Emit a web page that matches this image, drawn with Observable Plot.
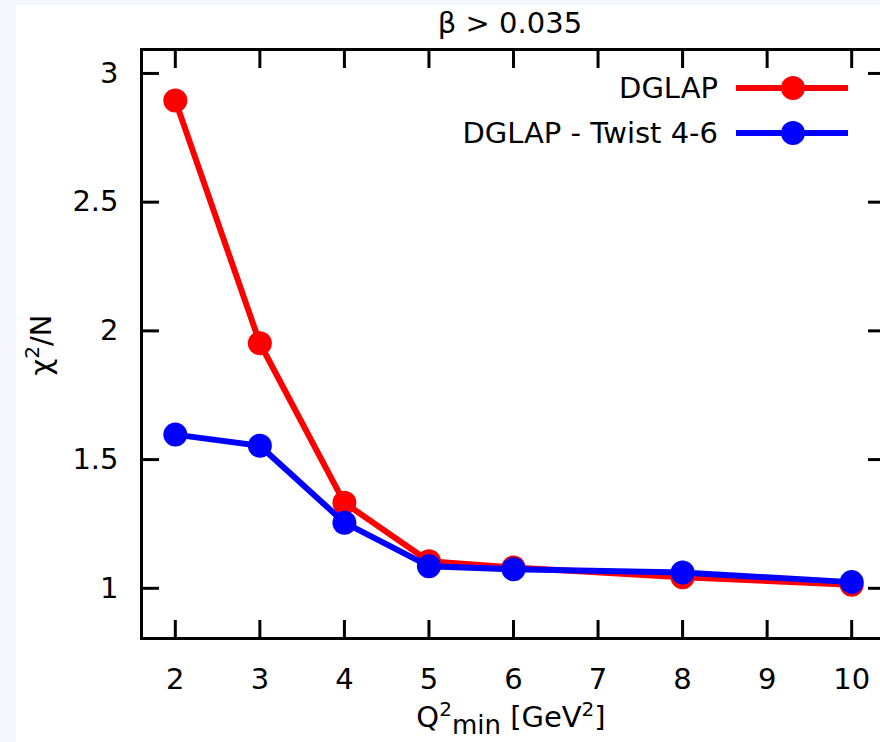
<!DOCTYPE html>
<html>
<head>
<meta charset="utf-8">
<script src="https://cdn.jsdelivr.net/npm/d3@7"></script>
<script src="https://cdn.jsdelivr.net/npm/@observablehq/plot@0.6"></script>
<style>
  html, body { margin: 0; padding: 0; }
  body { width: 880px; height: 742px; overflow: hidden; background: #f4f6fb; }
  #chart { position: absolute; left: 16px; top: 5px; width: 864px; height: 737px; overflow: hidden; background: #fff; }
  #chart svg { display: block; max-width: none !important; }
</style>
</head>
<body>
<div id="chart"></div>
<script>
// ---- data ----
const qmin = [2, 3, 4, 5, 6, 8, 10];
const dglap = [2.895, 1.952, 1.332, 1.105, 1.081, 1.043, 1.014];
const dglapTwist = [1.597, 1.554, 1.255, 1.086, 1.074, 1.061, 1.024];
const xTicks = [2, 3, 4, 5, 6, 7, 8, 9, 10];
const yTicks = [1, 1.5, 2, 2.5, 3];
const seriesNames = ["DGLAP", "DGLAP - Twist 4-6"];
const seriesColors = ["#ff0000", "#0000ff"];
const titleText = "β > 0.035";

const seriesValues = [dglap, dglapTwist];
const rows = seriesNames.flatMap((name, i) =>
  qmin.map((q, j) => ({ series: name, q, chi: seriesValues[i][j] }))
);

const FONT = "DejaVu Sans, sans-serif";
const FS = 29;
const SUP = 20;

const marks = [];
seriesNames.forEach((name, i) => {
  const d = rows.filter(r => r.series === name);
  marks.push(Plot.line(d, { x: "q", y: "chi", stroke: seriesColors[i], strokeWidth: 6 }));
  marks.push(Plot.dot(d, { x: "q", y: "chi", fill: seriesColors[i], r: 12, stroke: "none" }));
});

const plot = Plot.plot({
  width: 884,
  height: 737,
  marginLeft: 125,
  marginTop: 44,
  marginBottom: 104,
  marginRight: 15,
  style: { fontFamily: FONT, fontSize: FS + "px", background: "#fff", color: "#000", overflow: "visible", maxWidth: "none", height: "737px" },
  x: { domain: [1.6, 10.4], ticks: xTicks },
  y: { domain: [0.805, 3.093], ticks: yTicks },
  marks: [
    // ticks pointing inward on all four sides
    Plot.axisX({ anchor: "bottom", ticks: xTicks, tickSize: -18, strokeWidth: 3, text: null, label: null }),
    Plot.axisX({ anchor: "top", ticks: xTicks, tickSize: -18, strokeWidth: 3, text: null, label: null }),
    Plot.axisY({ anchor: "left", ticks: yTicks, tickSize: -18, strokeWidth: 3, text: null, label: null }),
    Plot.axisY({ anchor: "right", ticks: yTicks, tickSize: -18, strokeWidth: 3, text: null, label: null }),
    // tick labels
    Plot.axisX({ anchor: "bottom", ticks: xTicks, tickSize: 0, tickPadding: 30, label: null, fontSize: FS }),
    Plot.axisY({ anchor: "left", ticks: yTicks, tickSize: 0, tickPadding: 23, label: null, fontSize: FS, tickFormat: d => String(d) }),
    Plot.frame({ stroke: "#000", strokeWidth: 3 }),
    ...marks
  ]
});

document.getElementById("chart").appendChild(plot);

// ---- titles, axis labels and key (SVG text) ----
const svg = d3.select(plot);
const ox = -16, oy = -5; // page -> svg offset

svg.append("text")
  .attr("x", 510 + ox).attr("y", 33 + oy)
  .attr("text-anchor", "middle")
  .attr("font-family", FONT).attr("font-size", FS)
  .text(titleText);

// x label: Q²min [GeV²]
const xl = svg.append("text")
  .attr("x", 511 + ox).attr("y", 727 + oy)
  .attr("text-anchor", "middle")
  .attr("font-family", FONT).attr("font-size", FS);
xl.append("tspan").text("Q");
xl.append("tspan").attr("dy", -11).attr("font-size", SUP).text("2");
xl.append("tspan").attr("dy", 18).attr("font-size", FS - 3).text("min");
xl.append("tspan").attr("dy", -7).text(" [GeV");
xl.append("tspan").attr("dy", -11).attr("font-size", SUP).text("2");
xl.append("tspan").attr("dy", 11).text("]");

// y label: χ²/N
const yl = svg.append("text")
  .attr("transform", `translate(${51 + ox},${345 + oy}) rotate(-90)`)
  .attr("text-anchor", "middle")
  .attr("font-family", FONT).attr("font-size", FS);
yl.append("tspan").text("χ");
yl.append("tspan").attr("dy", -12).attr("font-size", SUP).text("2");
yl.append("tspan").attr("dy", 12).text("/N");

// key
const keyRowsY = [88, 133];
seriesNames.forEach((name, i) => {
  const y = keyRowsY[i] + oy;
  svg.append("text")
    .attr("x", 718 + ox).attr("y", y).attr("dy", "0.36em")
    .attr("text-anchor", "end")
    .attr("font-family", FONT).attr("font-size", FS)
    .text(name);
  svg.append("line")
    .attr("x1", 736 + ox).attr("x2", 848 + ox)
    .attr("y1", y).attr("y2", y)
    .attr("stroke", seriesColors[i]).attr("stroke-width", 6);
  svg.append("circle")
    .attr("cx", 793 + ox).attr("cy", y).attr("r", 12)
    .attr("fill", seriesColors[i]);
});
</script>
</body>
</html>
